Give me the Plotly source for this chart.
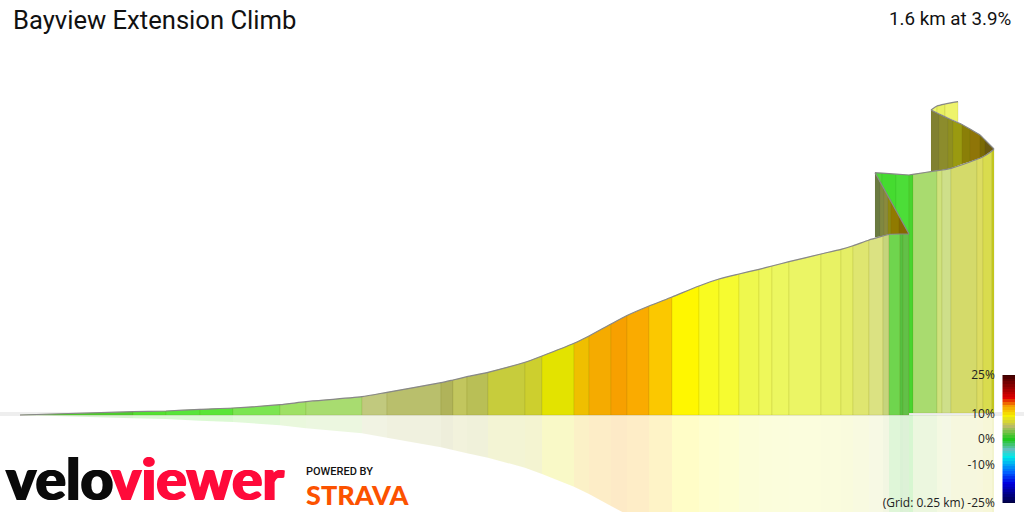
import plotly.graph_objects as go

"""
Data, read off the picture. Heights are measured from the floor line.
"""
front_edges = [20, 133, 166, 200, 233, 280, 306, 362, 387, 441, 453, 467, 488, 525, 542, 574,
               589, 611, 627, 649, 672, 699, 719, 739, 759, 772, 789, 821, 841, 853, 869, 883,
               889, 900, 903, 909]
front_heights = [0, 3.3, 4, 5.7, 7, 10.3, 13.3, 18.3, 22.7, 32.3, 35, 38.3, 42.7, 52.7, 59, 71.7,
                 79, 91, 99.5, 109, 118, 129, 136, 141, 145.7, 149, 153.3, 161, 165.7, 169.3, 175, 179,
                 180.7, 181, 181, 181]
front_colors = ['#4ccf2c', '#52e230', '#57e53a', '#5ae538', '#7ce552', '#9fe065', '#a8dc70', '#c1c97e',
                '#b9bf6c', '#b0b35a', '#c2c65e', '#b9bf56', '#c7cc3c', '#cdcf2e', '#e3e300', '#efbf00',
                '#f5ab00', '#f7a000', '#faab00', '#fbc800', '#fff700', '#f9fb20', '#f6fb30', '#eef84e',
                '#eef85a', '#ecf760', '#ebf565', '#e8f264', '#e5ee66', '#dfe670', '#dbe282', '#c6d47c',
                '#6fd54e', '#55c040', '#62c048']

# section after the switchback, it stands a little higher on the floor
upper_edges = [909, 913, 937, 942, 951, 977, 983, 992, 994]
upper_heights = [240, 240.7, 244.3, 245, 246.7, 255.7, 258.3, 264, 265.7]
upper_base = [2, 2, 2, 2, 2, 2, 2, 2, 2]
upper_colors = ['#48d52e', '#a9db6f', '#cfe27c', '#cedf8a', '#d4da6a', '#dcdc62', '#d9dc4e', '#c8cc20']

# green wall above the first bend
green_edges = [875, 882, 896, 909]
green_top = [242.3, 241.9, 240.8, 240]
green_low = [242.3, 229.7, 204.5, 181]
green_colors = ['#50d838', '#45db30', '#4cdd38']

# underside seen through the first bend
under_edges = [875, 880, 884, 888, 891, 899, 909]
under_top = [242.3, 233.3, 226.1, 218.9, 213.5, 199, 181]
under_low = [177.7, 178.5, 179.5, 180.5, 181, 181, 181]
under_colors = ['#6a7a40', '#808840', '#8a8a3c', '#8f8a10', '#907a00', '#866800']

# dark wall behind the last section
back_edges = [931, 939, 948, 953, 962, 970, 980, 985, 994]
back_top = [305, 301, 296.7, 294.5, 290.5, 286, 280, 275, 266]
back_low = [243.7, 244.6, 246, 247.4, 251, 253.5, 257, 259.5, 266]
back_colors = ['#808030', '#8c8c2c', '#8f8f20', '#9a9a10', '#8a7f08', '#8f7508', '#7a6a05', '#6a5a10']

# light strip at the very top
last_edges = [931, 937, 945, 958]
last_top = [305, 309, 311, 313.3]
last_low = [305, 302.5, 298.7, 293]
last_colors = ['#ecf56a', '#e8f060', '#eef36c']

# colour key
key_levels = list(range(-25, 26))
key_stops = [-25, -17, -13, -7, -4, 0, 5, 9, 13, 16, 25]
key_colors = ['#000040', '#0000e0', '#0060ff', '#00e8e8', '#60c0c0', '#1fc81f', '#b9bb66', '#f5f000',
              '#f59a00', '#e00000', '#3c0000']
key_ticks = [25, 10, 0, -10, -25]
key_labels = ['25%', '10%', '0%', '-10%', '(Grid: 0.25 km) -25%']

TITLE = 'Bayview Extension Climb'
SUMMARY = '1.6 km at 3.9%'
FADE = 0.22
OUTLINE = 'rgba(110,110,0,0.12)'
RIDGE = '#888888'


def faded(color, alpha=FADE):
    r, g, b = int(color[1:3], 16), int(color[3:5], 16), int(color[5:7], 16)
    return 'rgba({},{},{},{})'.format(r, g, b, alpha)


def add_band(fig, edges, top, low, colors, line=OUTLINE):
    """one filled quad per segment between two height profiles"""
    for i, color in enumerate(colors):
        fig.add_trace(go.Scatter(
            x=[edges[i], edges[i], edges[i + 1], edges[i + 1], edges[i]],
            y=[low[i], top[i], top[i + 1], low[i + 1], low[i]],
            mode='lines', fill='toself', fillcolor=color,
            line=dict(color=line, width=1),
            hoverinfo='skip', showlegend=False))


def add_ridge(fig, xs, ys):
    fig.add_trace(go.Scatter(x=xs, y=ys, mode='lines', line=dict(color=RIDGE, width=1.2, shape='spline', smoothing=0.6),
                             hoverinfo='skip', showlegend=False))


fig = go.Figure()

# floor line
fig.add_trace(go.Scatter(x=[0, 1024], y=[1, 1], mode='lines', line=dict(color='#eeeeee', width=4),
                         hoverinfo='skip', showlegend=False))

# reflection under the floor
all_edges = front_edges + upper_edges[1:]
all_heights = front_heights[:-1] + [181] + upper_heights[1:]
all_colors = front_colors + upper_colors
add_band(fig, all_edges, [0] * len(all_edges), [-h for h in all_heights],
         [faded(c) for c in all_colors], line='rgba(0,0,0,0)')

add_band(fig, last_edges, last_top, last_low, last_colors)
add_band(fig, back_edges, back_top, back_low, back_colors, line='rgba(0,0,0,0.03)')
add_band(fig, green_edges, green_top, green_low, green_colors, line='rgba(0,100,0,0.08)')
add_band(fig, under_edges, under_top, under_low, under_colors, line='rgba(0,0,0,0.03)')
add_band(fig, front_edges, front_heights, [0] * len(front_edges), front_colors)
add_band(fig, upper_edges, upper_heights, upper_base, upper_colors)

add_ridge(fig, front_edges, front_heights)
add_ridge(fig, upper_edges, upper_heights)
add_ridge(fig, green_edges, green_top)
add_ridge(fig, under_edges, under_top)
add_ridge(fig, back_edges, back_top)
add_ridge(fig, last_edges, last_top)

# colour key
fig.add_trace(go.Heatmap(
    x=[0, 1], y=key_levels, z=[[v, v] for v in key_levels],
    zmin=-25, zmax=25, showscale=False, hoverinfo='skip',
    colorscale=[[(s + 25) / 50, c] for s, c in zip(key_stops, key_colors)],
    xaxis='x2', yaxis='y2'))

fig.update_layout(
    width=1024, height=512,
    margin=dict(l=0, r=0, t=0, b=0),
    paper_bgcolor='white', plot_bgcolor='white',
    font=dict(family='Roboto', color='#111111'),
    title=dict(text=TITLE, font=dict(family='Roboto', size=25.6, color='#111111'),
               x=13 / 1024, y=1 - 20 / 512, xanchor='left', yanchor='middle'),
    xaxis=dict(range=[0, 1024], domain=[0, 1], visible=False, fixedrange=True, automargin=False),
    yaxis=dict(range=[-97, 415], domain=[0, 1], visible=False, fixedrange=True, automargin=False),
    xaxis2=dict(domain=[1002.3 / 1024, 1015 / 1024], range=[-0.5, 1.5], visible=False, anchor='y2',
                automargin=False),
    yaxis2=dict(domain=[1 - 503 / 512, 1 - 375 / 512], range=[-25, 25], anchor='x2', automargin=False,
                tickmode='array', tickvals=key_ticks, ticktext=key_labels,
                tickfont=dict(family='Open Sans', size=12, color='#222222'),
                ticks='outside', ticklen=4, tickcolor='rgba(0,0,0,0)',
                showgrid=False, zeroline=False, showline=False),
    annotations=[
        dict(text=SUMMARY, xref='paper', yref='paper', x=1013 / 1024, y=1 - 19 / 512,
             xanchor='right', yanchor='middle', showarrow=False,
             font=dict(family='Roboto', size=18.8, color='#111111')),
        dict(text='velo', xref='paper', yref='paper', x=4 / 1024, y=1 - 477.5 / 512,
             xanchor='left', yanchor='middle', showarrow=False,
             font=dict(family='Lato', size=57, color='#0a0a0a', weight=900,
                       shadow='1px 0 0 #0a0a0a, -1px 0 0 #0a0a0a')),
        dict(text='viewer', xref='paper', yref='paper', x=109 / 1024, y=1 - 477.5 / 512,
             xanchor='left', yanchor='middle', showarrow=False,
             font=dict(family='Lato', size=57, color='#ff0a3a', weight=900,
                       shadow='1px 0 0 #ff0a3a, -1px 0 0 #ff0a3a')),
        dict(text='POWERED BY', xref='paper', yref='paper', x=304 / 1024, y=1 - 471 / 512,
             xanchor='left', yanchor='middle', showarrow=False,
             font=dict(family='Roboto', size=11, color='#111111', weight=500)),
        dict(text='STRAVA', xref='paper', yref='paper', x=304 / 1024, y=1 - 494 / 512,
             xanchor='left', yanchor='middle', showarrow=False,
             font=dict(family='Lato', size=27, color='#fc5200', weight=900)),
    ],
)

# no page margin, the figure has to fill the window
fig.write_html('out.html', config={'displayModeBar': False},
               post_script="document.body.style.margin='0';")
